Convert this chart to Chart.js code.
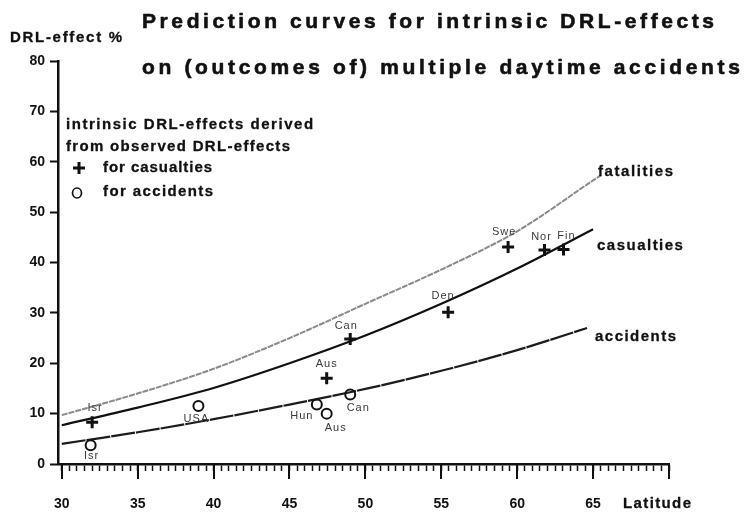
<!DOCTYPE html>
<html>
<head>
<meta charset="utf-8">
<script src="https://cdn.jsdelivr.net/npm/chart.js@4.4.1/dist/chart.umd.min.js"></script>
<style>
  html, body { margin: 0; padding: 0; background: #fff; }
  #wrap { width: 746px; height: 513px; position: relative; }
</style>
</head>
<body>
<div id="wrap"><canvas id="chart"></canvas></div>
<script>
// --- data
// prediction curves (latitude, DRL-effect %)
const fatalLat = [30, 35, 40, 45, 50, 55, 60, 65, 65.5];
const fatalVal = [9.7, 14.0, 18.9, 25.0, 31.8, 38.6, 46.2, 56.3, 57.3];
const casLat = [30, 35, 40, 45, 50, 55, 60, 65];
const casVal = [7.7, 11.2, 15.1, 20.0, 25.5, 31.8, 38.8, 46.6];
const accLat = [30, 35, 40, 45, 50, 55, 60, 64.6];
const accVal = [4.0, 6.3, 8.9, 11.8, 14.9, 18.5, 22.6, 27.0];

// intrinsic effects derived from observed effects
const casCountries = ['Isr', 'Aus', 'Can', 'Den', 'Swe', 'Nor', 'Fin'];
const casPointLat = [32.0, 47.45, 49.0, 55.45, 59.4, 61.8, 63.05];
const casPointVal = [8.3, 17.0, 24.8, 30.1, 43.1, 42.5, 42.6];
const accCountries = ['Isr', 'USA', 'Hun', 'Aus', 'Can'];
const accPointLat = [31.9, 39.0, 46.8, 47.45, 49.0];
const accPointVal = [3.7, 11.5, 11.8, 10.0, 13.8];

// axis ticks
const xTicks = [30, 35, 40, 45, 50, 55, 60, 65];
const yTicks = [0, 10, 20, 30, 40, 50, 60, 70, 80];

// --- label placement (px offset from the mark)
const casLabelOffset = [[3, -14], [0, -14], [-4, -13], [-5, -16], [-4, -15], [-3, -13], [3, -13]];
const accLabelOffset = [[1, 11], [-2, 13], [-15, 11], [9, 14], [8, 13]];

const FONT = '"Liberation Sans", Arial, sans-serif';
const INK = '#111';

function pts(xs, ys){ return xs.map((x, i) => ({ x, y: ys[i] })); }

// heavy text stretched to a target width with letter spacing
function drawFit(ctx, text, x, y, width, font, heavy) {
  ctx.save();
  ctx.font = font;
  ctx.fillStyle = INK;
  ctx.strokeStyle = INK;
  ctx.lineWidth = heavy || 0;
  ctx.lineJoin = 'round';
  ctx.textBaseline = 'middle';
  ctx.textAlign = 'left';
  ctx.letterSpacing = '0px';
  const w0 = ctx.measureText(text).width;
  const sp = text.length > 1 ? Math.max(0, (width - w0) / (text.length - 1)) : 0;
  ctx.letterSpacing = sp.toFixed(2) + 'px';
  ctx.fillText(text, x, y);
  if (heavy) ctx.strokeText(text, x, y);
  ctx.restore();
}

const decorPlugin = {
  id: 'decor',
  afterDraw(chart) {
    const ctx = chart.ctx;
    const xs = chart.scales.x;
    const bottom = chart.chartArea.bottom;

    // long ticks every 5 degrees
    ctx.save();
    ctx.strokeStyle = INK;
    ctx.lineWidth = 2;
    [...xTicks, 70].forEach(v => {
      const px = Math.round(xs.getPixelForValue(v));
      ctx.beginPath();
      ctx.moveTo(px, bottom);
      ctx.lineTo(px, bottom + 15);
      ctx.stroke();
    });
    ctx.restore();

    // point labels
    ctx.save();
    ctx.font = '11px ' + FONT;
    ctx.fillStyle = '#3a3a3a';
    ctx.textAlign = 'center';
    ctx.textBaseline = 'middle';
    ctx.letterSpacing = '1px';
    const casMeta = chart.getDatasetMeta(0);
    casCountries.forEach((c, i) => {
      const el = casMeta.data[i];
      ctx.fillText(c, el.x + casLabelOffset[i][0], el.y + casLabelOffset[i][1]);
    });
    const accMeta = chart.getDatasetMeta(1);
    accCountries.forEach((c, i) => {
      const el = accMeta.data[i];
      ctx.fillText(c, el.x + accLabelOffset[i][0], el.y + accLabelOffset[i][1]);
    });
    ctx.restore();

    // titles and annotations
    const b21 = 'bold 21px ' + FONT;
    const b15 = 'bold 15px ' + FONT;
    drawFit(ctx, 'Prediction curves for intrinsic DRL-effects', 142, 22, 572, b21, 0.6);
    drawFit(ctx, 'on (outcomes of) multiple daytime accidents', 142, 68, 598, b21, 0.6);
    drawFit(ctx, 'DRL-effect %', 10, 38, 112, b15, 0.3);
    drawFit(ctx, 'intrinsic DRL-effects derived', 66, 125, 247, b15, 0.3);
    drawFit(ctx, 'from observed DRL-effects', 66, 147, 224, b15, 0.3);
    drawFit(ctx, 'for casualties', 103, 168, 109, b15, 0.3);
    drawFit(ctx, 'for accidents', 103, 192, 110, b15, 0.3);
    drawFit(ctx, 'fatalities', 598, 172, 75, b15, 0.3);
    drawFit(ctx, 'casualties', 597, 246, 86, b15, 0.3);
    drawFit(ctx, 'accidents', 595, 337, 81, b15, 0.3);
    drawFit(ctx, 'Latitude', 623, 504, 68, b15, 0.3);

    // legend symbols
    ctx.save();
    ctx.strokeStyle = INK;
    ctx.lineWidth = 3;
    ctx.beginPath();
    ctx.moveTo(73, 168); ctx.lineTo(85, 168);
    ctx.moveTo(79, 162); ctx.lineTo(79, 174);
    ctx.stroke();
    ctx.lineWidth = 1.7;
    ctx.beginPath();
    ctx.ellipse(77, 193, 4.5, 5, 0, 0, Math.PI * 2);
    ctx.stroke();
    ctx.restore();
  }
};

const chart = new Chart(document.getElementById('chart').getContext('2d'), {
  type: 'line',
  data: {
    datasets: [
      {
        label: 'casualties (observed)',
        data: pts(casPointLat, casPointVal),
        showLine: false,
        pointStyle: 'cross',
        pointRadius: 6,
        pointBorderWidth: 3,
        pointBorderColor: INK,
        order: 0
      },
      {
        label: 'accidents (observed)',
        data: pts(accPointLat, accPointVal),
        showLine: false,
        pointStyle: 'circle',
        pointRadius: 5,
        pointBorderWidth: 2,
        pointBorderColor: INK,
        pointBackgroundColor: 'rgba(0,0,0,0)',
        order: 1
      },
      {
        label: 'fatalities',
        data: pts(fatalLat, fatalVal),
        borderColor: '#8a8a8a',
        borderWidth: 2,
        borderDash: [6, 1],
        pointRadius: 0,
        cubicInterpolationMode: 'monotone',
        order: 4
      },
      {
        label: 'casualties',
        data: pts(casLat, casVal),
        borderColor: INK,
        borderWidth: 2.2,
        pointRadius: 0,
        cubicInterpolationMode: 'monotone',
        order: 3
      },
      {
        label: 'accidents',
        data: pts(accLat, accVal),
        borderColor: '#1c1c1c',
        borderWidth: 2.2,
        borderDash: [24, 1],
        pointRadius: 0,
        cubicInterpolationMode: 'monotone',
        order: 2
      }
    ]
  },
  options: {
    responsive: true,
    maintainAspectRatio: false,
    animation: false,
    layout: { padding: { top: 61, right: 77, left: 0, bottom: 0 } },
    plugins: {
      legend: { display: false },
      tooltip: { enabled: false },
      title: { display: false }
    },
    scales: {
      x: {
        type: 'linear',
        min: 29.75,
        max: 70,
        ticks: {
          stepSize: 0.5,
          includeBounds: false,
          autoSkip: false,
          maxTicksLimit: 200,
          maxRotation: 0,
          padding: 25,
          color: INK,
          font: { family: FONT, size: 14, weight: 'bold' },
          callback: v => xTicks.includes(v) ? String(v) : ''
        },
        grid: {
          drawOnChartArea: false,
          drawTicks: true,
          tickLength: 7,
          tickWidth: 1.5,
          tickColor: INK
        },
        border: { display: true, color: INK, width: 2.5 },
        afterFit: s => { s.height = 49; }
      },
      y: {
        min: 0,
        max: 80,
        afterBuildTicks: s => { s.ticks = yTicks.map(v => ({ value: v })); },
        ticks: {
          padding: 5,
          color: INK,
          font: { family: FONT, size: 14, weight: 'bold' }
        },
        grid: {
          drawOnChartArea: false,
          drawTicks: true,
          tickLength: 8,
          tickWidth: 2,
          tickColor: INK
        },
        border: { display: true, color: INK, width: 2.5 },
        afterFit: s => { s.width = 58; }
      }
    }
  },
  plugins: [decorPlugin]
});
</script>
</body>
</html>
